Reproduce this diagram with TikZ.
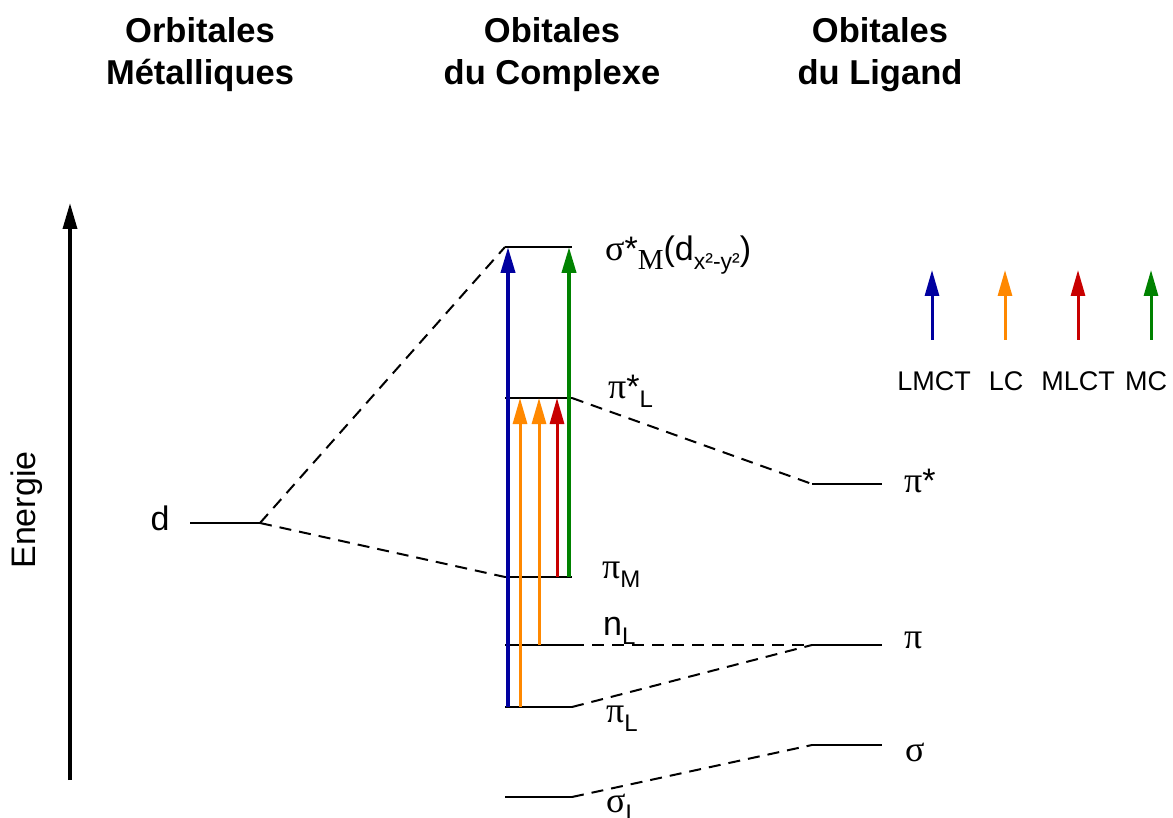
\documentclass[tikz,border=0pt]{standalone}
\usepackage{fontspec}
\setmainfont{Liberation Sans}
\newfontfamily\grk{Liberation Serif}
\usetikzlibrary{arrows.meta}
\definecolor{cblue}{RGB}{0,0,160}
\definecolor{corange}{RGB}{255,136,0}
\definecolor{cred}{RGB}{200,0,0}
\definecolor{cgreen}{RGB}{0,130,0}
\newcommand\lsb[1]{\raisebox{-9pt}{\fontsize{24}{24}\selectfont #1}}
\newcommand\gk[1]{{\fontsize{36}{36}\grk #1}}
\begin{document}
\begin{tikzpicture}[x=1pt,y=-1pt,
  level/.style={line width=2pt},
  conn/.style={line width=2pt,dash pattern=on 12pt off 8pt},
  trans/.style={line width=4pt,-{Triangle[length=26pt,width=14pt]}},
  lbl/.style={font=\fontsize{34}{38}\selectfont,inner sep=0pt},
  leg/.style={font=\fontsize{27}{32}\selectfont,inner sep=0pt},
  head/.style={font=\fontsize{34.5}{42}\selectfont\bfseries,align=center,inner sep=0pt}]
\useasboundingbox (0,0) rectangle (1173,818);
% headers
\node[head] (h1) at (200,55) {Orbitales\\Métalliques};
\node[head] (h2) at (552,55) {Obitales\\du Complexe};
\node[head] (h3) at (880,55) {Obitales\\du Ligand};
% energy axis
\coordinate (ab) at (70,780);
\coordinate (at) at (70,203);
\draw[line width=3.5pt,-{Triangle[length=26pt,width=14pt]}] (ab) -- (at);
\node[lbl,rotate=90] (en) at (27,510) {Energie};
% metal
\coordinate (dl) at (190,523); \coordinate (dr) at (260,523);
\draw[level] (dl) -- (dr);
\node[lbl,anchor=base] (dlab) at (160,530) {d};
% complex levels
\coordinate (sMl) at (505,247); \coordinate (sMr) at (572,247);
\coordinate (pLsl) at (505,398); \coordinate (pLsr) at (572,398);
\coordinate (pMl) at (505,577); \coordinate (pMr) at (572,577);
\coordinate (nLl) at (505,645); \coordinate (nLr) at (572,645);
\coordinate (pLl) at (505,707); \coordinate (pLr) at (572,707);
\coordinate (sLl) at (505,797); \coordinate (sLr) at (572,797);
\foreach \a/\b in {sMl/sMr,pLsl/pLsr,pMl/pMr,nLl/nLr,pLl/pLr,sLl/sLr}
  \draw[level] (\a) -- (\b);
% ligand levels
\coordinate (Psl) at (812,484); \coordinate (Psr) at (882,484);
\coordinate (Pl) at (812,645); \coordinate (Pr) at (882,645);
\coordinate (Sl) at (812,745); \coordinate (Sr) at (882,745);
\foreach \a/\b in {Psl/Psr,Pl/Pr,Sl/Sr}
  \draw[level] (\a) -- (\b);
% connectors
\draw[conn] (dr) -- (sMl);
\draw[conn] (dr) -- (pMl);
\draw[conn] (pLsr) -- (Psl);
\draw[conn] (nLr) -- (Pl);
\draw[conn] (pLr) -- (Pl);
\draw[conn] (sLr) -- (Sl);
% labels
\node[lbl,anchor=base west] (lsM) at (605,261) {\gk{σ}*\raisebox{-9pt}{\fontsize{29}{29}\grk M}(d\raisebox{-9pt}{\fontsize{23}{23}\selectfont x²-y²})};
\node[lbl,anchor=base west] (lpLs) at (608,399) {\gk{π}*\lsb{L}};
\node[lbl,anchor=base west] (lpM) at (602,578) {\gk{π}\lsb{M}};
\node[lbl,anchor=base west] (lnL) at (603,635) {n\lsb{L}};
\node[lbl,anchor=base west] (lpL) at (606,722) {\gk{π}\lsb{L}};
\node[lbl,anchor=base west] (lsL) at (606,812) {\gk{σ}\lsb{L}};
\node[lbl,anchor=base west] (lPs) at (904,492) {\gk{π}*};
\node[lbl,anchor=base west] (lP) at (904,648) {\gk{π}};
\node[lbl,anchor=base west] (lS) at (905,761) {\gk{σ}};
% transitions
\coordinate (b0) at (508,707); \coordinate (b1) at (508,247);
\coordinate (o0) at (520,707); \coordinate (o1) at (520,398);
\coordinate (q0) at (539,645); \coordinate (q1) at (539,398);
\coordinate (r0) at (557,577); \coordinate (r1) at (557,398);
\coordinate (g0) at (569,577); \coordinate (g1) at (569,247);
\draw[trans,cblue] (b0) -- (b1);
\draw[trans,corange,line width=3pt] (o0) -- (o1);
\draw[trans,corange,line width=3pt] (q0) -- (q1);
\draw[trans,cred,line width=3pt] (r0) -- (r1);
\draw[trans,cgreen] (g0) -- (g1);
% legend
\foreach \n/\x/\c/\t in {1/932/cblue/LMCT,2/1005/corange/LC,3/1078/cred/MLCT,4/1151/cgreen/MC}{
  \coordinate (k\n0) at (\x,340); \coordinate (k\n1) at (\x,270);
  \draw[trans,\c,line width=3pt] (k\n0) -- (k\n1);
}
\node[leg] (t1) at (934,381) {LMCT};
\node[leg] (t2) at (1006,381) {LC};
\node[leg] (t3) at (1078,381) {MLCT};
\node[leg] (t4) at (1146,381) {MC};
\end{tikzpicture}
\end{document}
